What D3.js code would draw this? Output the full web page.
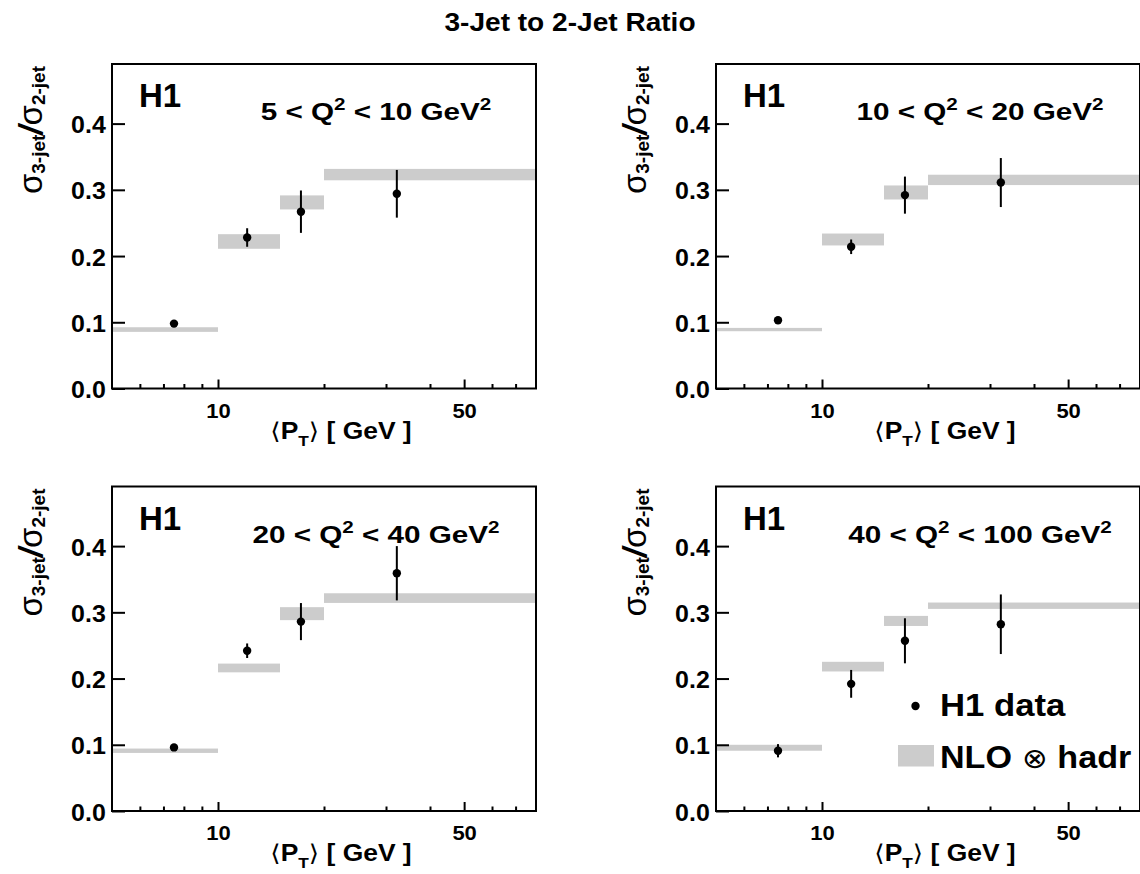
<!DOCTYPE html>
<html><head><meta charset="utf-8">
<script src="https://cdn.jsdelivr.net/npm/d3@7"></script>
<style>
body{margin:0;background:#fff}
text{font-family:"Liberation Sans",Arial,Helvetica,sans-serif;font-weight:bold;fill:#000}
</style>
</head><body>
<svg id="chart" width="1140" height="874"></svg>
<script>
// ---------------- data ----------------
const titleText = "3-Jet to 2-Jet Ratio";
const q2Low  = [5, 10, 20, 40];
const q2High = [10, 20, 40, 100];
const ptMean   = [7.5, 12.1, 17.2, 32.2];          // <P_T> of data points (GeV)
const binEdges = [5, 10, 15, 20, 80];               // NLO bins (GeV)

const ratioQ1 = [0.098, 0.228, 0.267, 0.294];
const errQ1   = [0.004, 0.014, 0.032, 0.036];
const ratioQ2 = [0.103, 0.214, 0.292, 0.311];
const errQ2   = [0.004, 0.011, 0.028, 0.037];
const ratioQ3 = [0.096, 0.242, 0.286, 0.359];
const errQ3   = [0.004, 0.011, 0.028, 0.041];
const ratioQ4 = [0.091, 0.192, 0.257, 0.282];
const errQ4   = [0.010, 0.021, 0.034, 0.045];

const nloQ1    = [0.089, 0.222, 0.281, 0.323];
const nloErrQ1 = [0.0035, 0.011, 0.0106, 0.0086];
const nloQ2    = [0.089, 0.225, 0.296, 0.315];
const nloErrQ2 = [0.0025, 0.009, 0.0106, 0.0078];
const nloQ3    = [0.091, 0.216, 0.298, 0.3215];
const nloErrQ3 = [0.0033, 0.0066, 0.0098, 0.0073];
const nloQ4    = [0.0955, 0.218, 0.287, 0.310];
const nloErrQ4 = [0.0045, 0.0073, 0.0076, 0.0048];

const yTicks = [0, 0.1, 0.2, 0.3, 0.4];
const xMajorTicks = [10, 50];
const xMajorLabels = ["10", "50"];
const xMinorTicks = [6, 7, 8, 9, 20, 30, 40, 60, 70];
const legendLabels = ["H1 data", "NLO", "hadr"];

// ---------------- layout ----------------
const svg = d3.select("#chart");
const W = 424, H = 324.5;
const lefts = [112, 716], tops = [64, 486.5];
const panels = [
  {lo:q2Low[0], hi:q2High[0], r:ratioQ1, e:errQ1, n:nloQ1, ne:nloErrQ1},
  {lo:q2Low[1], hi:q2High[1], r:ratioQ2, e:errQ2, n:nloQ2, ne:nloErrQ2},
  {lo:q2Low[2], hi:q2High[2], r:ratioQ3, e:errQ3, n:nloQ3, ne:nloErrQ3},
  {lo:q2Low[3], hi:q2High[3], r:ratioQ4, e:errQ4, n:nloQ4, ne:nloErrQ4}
];
const gray = "#cccccc";

const x = d3.scaleLog().domain([5, 80]).range([0, W]);
const y = d3.scaleLinear().domain([0, 0.49]).range([H, 0]);

// title
svg.append("g").attr("transform", "translate(570,31) scale(1.08,1)")
  .append("text").attr("text-anchor", "middle").style("font-size", "26px").text(titleText);

svg.append("defs").append("clipPath").attr("id", "clip")
  .append("rect").attr("width", W).attr("height", H);

panels.forEach((p, k) => {
  const g = svg.append("g").attr("transform", `translate(${lefts[k % 2]},${tops[Math.floor(k / 2)]})`);
  const idx = d3.range(p.r.length);

  // NLO bands
  g.append("g").attr("clip-path", "url(#clip)").selectAll("rect").data(idx).join("rect")
    .attr("x", i => x(binEdges[i])).attr("width", i => x(binEdges[i + 1]) - x(binEdges[i]))
    .attr("y", i => y(p.n[i] + p.ne[i])).attr("height", i => y(p.n[i] - p.ne[i]) - y(p.n[i] + p.ne[i]))
    .attr("fill", gray);

  // error bars
  g.append("g").selectAll("line").data(idx).join("line")
    .attr("x1", i => x(ptMean[i])).attr("x2", i => x(ptMean[i]))
    .attr("y1", i => y(p.r[i] - p.e[i])).attr("y2", i => y(p.r[i] + p.e[i]))
    .attr("stroke", "#000").attr("stroke-width", 2);
  // markers
  g.append("g").selectAll("circle").data(idx).join("circle")
    .attr("cx", i => x(ptMean[i])).attr("cy", i => y(p.r[i])).attr("r", 4.2).attr("fill", "#000");

  // frame
  g.append("rect").attr("width", W).attr("height", H).attr("fill", "none")
    .attr("stroke", "#000").attr("stroke-width", 2);

  // y axis
  const ya = g.append("g").call(d3.axisLeft(y).tickValues(yTicks).tickSize(-13).tickPadding(6)
    .tickFormat(d3.format(".1f")));
  ya.attr("font-family", null).attr("font-size", null);
  ya.select(".domain").remove();
  ya.selectAll("line").attr("stroke", "#000").attr("stroke-width", 2);
  ya.selectAll("text").attr("dy", "0.38em").attr("transform", "scale(1.04,1)")
    .style("font-size", "24px");

  // x axis: major
  const xa = g.append("g").attr("transform", `translate(0,${H})`)
    .call(d3.axisBottom(x).tickValues(xMajorTicks).tickSize(-9).tickPadding(15)
      .tickFormat((d, i) => xMajorLabels[i]));
  xa.attr("font-family", null).attr("font-size", null);
  xa.select(".domain").remove();
  xa.selectAll("line").attr("stroke", "#000").attr("stroke-width", 2);
  xa.selectAll("text").attr("transform", "scale(1.1,1)").style("font-size", "20px");
  // x axis: minor
  const xm = g.append("g").attr("transform", `translate(0,${H})`)
    .call(d3.axisBottom(x).tickValues(xMinorTicks).tickSize(-4.5).tickFormat(""));
  xm.select(".domain").remove();
  xm.selectAll("line").attr("stroke", "#000").attr("stroke-width", 2);

  // x title
  const xt = g.append("g").attr("transform", `translate(229,${H + 50}) scale(1.15,1)`)
    .append("text").attr("text-anchor", "middle").style("font-size", "23px");
  xt.append("tspan").style("font-family", "DejaVu Sans").style("font-weight", "normal").text("\u27E8");
  xt.append("tspan").text("P");
  xt.append("tspan").style("font-size", "15px").attr("dy", 7).text("T");
  xt.append("tspan").attr("dy", -7).style("font-family", "DejaVu Sans").style("font-weight", "normal").text("\u27E9");
  xt.append("tspan").text(" [ GeV ]");

  // y title
  const yt = g.append("text").attr("text-anchor", "end")
    .attr("transform", `translate(-70,2) rotate(-90)`);
  yt.append("tspan").style("font-size", "33px").style("font-weight", "normal").text("σ");
  yt.append("tspan").style("font-size", "19px").attr("dy", 3).text("3-jet");
  yt.append("tspan").style("font-size", "33px").style("font-style", "italic").attr("dy", -3).text("/");
  yt.append("tspan").style("font-size", "33px").style("font-weight", "normal").text("σ");
  yt.append("tspan").style("font-size", "19px").attr("dy", 3).text("2-jet");

  // H1 label
  g.append("text").attr("x", 27).attr("y", 43).style("font-size", "33px").text("H1");

  // Q2 label
  const ql = g.append("g").attr("transform", "translate(264,56) scale(1.29,1)")
    .append("text").attr("text-anchor", "middle").style("font-size", "23px");
  ql.append("tspan").text(`${p.lo} < Q`);
  ql.append("tspan").style("font-size", "16px").attr("dy", -10).text("2");
  ql.append("tspan").attr("dy", 10).text(` < ${p.hi} GeV`);
  ql.append("tspan").style("font-size", "16px").attr("dy", -10).text("2");

  // legend in last panel
  if (k === 3) {
    g.append("circle").attr("cx", 199.5).attr("cy", 219.5).attr("r", 4.2).attr("fill", "#000");
    g.append("g").attr("transform", "translate(224,229.5) scale(1.12,1)")
      .append("text").style("font-size", "31px").text(legendLabels[0]);
    g.append("rect").attr("x", 182).attr("y", 258.5).attr("width", 36).attr("height", 21.5).attr("fill", gray);
    const lt = g.append("g").attr("transform", "translate(224,281.5) scale(1.1,1)")
      .append("text").style("font-size", "31px");
    lt.append("tspan").text(legendLabels[1]);
    lt.append("tspan").style("font-family", "DejaVu Sans").style("font-weight", "normal")
      .style("font-size", "28px").text(" \u2297 ");
    lt.append("tspan").text(legendLabels[2]);
  }
});
</script>
</body></html>
